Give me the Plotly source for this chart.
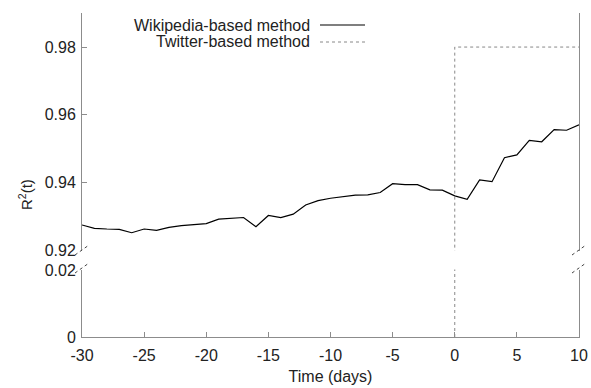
import plotly.graph_objects as go

# ---- data ----
days = list(range(-30, 11))
wiki_r2 = [0.9274, 0.9264, 0.9262, 0.9261, 0.9251, 0.9262, 0.9258, 0.9267, 0.9272, 0.9276,
           0.9278, 0.9291, 0.9294, 0.9296, 0.9269, 0.9302, 0.9296, 0.9306, 0.9333, 0.9346,
           0.9353, 0.9358, 0.9362, 0.9363, 0.9370, 0.9396, 0.9393, 0.9393, 0.9378, 0.9377,
           0.9360, 0.9350, 0.9407, 0.9402, 0.9473, 0.9481, 0.9524, 0.9520, 0.9556, 0.9554,
           0.9570]
tw_days = [0, 0, 10]
tw_r2 = [0.0, 0.98, 0.98]

upper_ticks = [0.92, 0.94, 0.96, 0.98]
upper_labels = ["0.92", "0.94", "0.96", "0.98"]
lower_ticks = [0, 0.02]
lower_labels = ["0", "0.02"]
x_ticks = [-30, -25, -20, -15, -10, -5, 0, 5, 10]
x_labels = ["-30", "-25", "-20", "-15", "-10", "-5", "0", "5", "10"]

FONT = "Liberation Sans, Arial, sans-serif"
AX = "#8c8c8c"

fig = go.Figure()
for ya in ["y", "y2"]:
    fig.add_trace(go.Scatter(x=days, y=wiki_r2, mode="lines", yaxis=ya, xaxis="x",
                             line=dict(color="black", width=1.2), showlegend=False,
                             name="Wikipedia-based method"))
    fig.add_trace(go.Scatter(x=tw_days, y=tw_r2, mode="lines", yaxis=ya, xaxis="x",
                             line=dict(color="#888888", width=1, dash="dot"), showlegend=False,
                             name="Twitter-based method"))

# body margin removed via post_script, so figure sits at (0, 0)
W, H = 591, 388
PL, PR, PT, PB = 82, 579, 13, 337          # plot area in window pixels
ml, mr, mt, mb = PL, W - PR, PT, H - PB
pw, ph = PR - PL, PB - PT

def py(pix):
    return (PB - pix) / ph

def px(pix):
    return (pix - PL) / pw

yax_common = dict(ticks="inside", ticklen=5, tickcolor=AX, showline=True, mirror=True,
                  linecolor=AX, linewidth=1, showgrid=False, zeroline=False, anchor="x",
                  tickfont=dict(size=16), automargin=False, ticklabelstandoff=2)

fig.update_layout(
    width=W, height=H,
    margin=dict(l=ml, r=mr, t=mt, b=mb, autoexpand=False),
    plot_bgcolor="white", paper_bgcolor="white",
    font=dict(family=FONT, size=16, color="#222222"),
    showlegend=False,
    xaxis=dict(range=[-30, 10], tickvals=x_ticks, ticktext=x_labels, ticks="inside",
               ticklen=5, tickcolor=AX,
               showline=True, linecolor=AX, linewidth=1, showgrid=False, zeroline=False,
               anchor="y2", tickfont=dict(size=16), automargin=False, ticklabelstandoff=4,
               title=dict(text="Time (days)", font=dict(size=16), standoff=7)),
    yaxis=dict(domain=[py(250.5), 1], range=[0.91985, 0.99007], tickvals=upper_ticks,
               ticktext=upper_labels, **yax_common),
    yaxis2=dict(domain=[0, py(269.5)], range=[0, 0.02015], tickvals=lower_ticks,
                ticktext=lower_labels, **yax_common),
)

# y-axis title
fig.add_annotation(text="R<sup>2</sup>(t)", xref="paper", yref="paper",
                   x=px(25), y=py(195), textangle=-90, showarrow=False,
                   font=dict(size=15), xanchor="center", yanchor="middle")

# legend (gnuplot style: text then sample)
legend_items = [("Wikipedia-based method", dict(color="black", width=1.2)),
                ("Twitter-based method", dict(color="#888888", width=1, dash="dot"))]
for i, (label, ln) in enumerate(legend_items):
    yp = 25 + i * 17
    fig.add_annotation(text=label, xref="paper", yref="paper",
                       x=px(312), y=py(yp), xanchor="right", yanchor="middle",
                       showarrow=False, font=dict(size=16))
    fig.add_shape(type="line", xref="paper", yref="paper",
                  x0=px(320), x1=px(365), y0=py(yp), y1=py(yp), line=ln)

# axis break marks
dx, dy = 7 / pw, 5 / ph
for xp in [0, 1]:
    for ypx in [250, 268]:
        fig.add_shape(type="line", xref="paper", yref="paper",
                      x0=xp - dx, x1=xp + dx, y0=py(ypx) - dy, y1=py(ypx) + dy,
                      line=dict(color="#444444", width=1, dash="dot"))

fig.write_html("out.html",
               config={"displayModeBar": False},
               post_script="document.body.style.margin='0px';document.body.style.overflow='hidden';")
